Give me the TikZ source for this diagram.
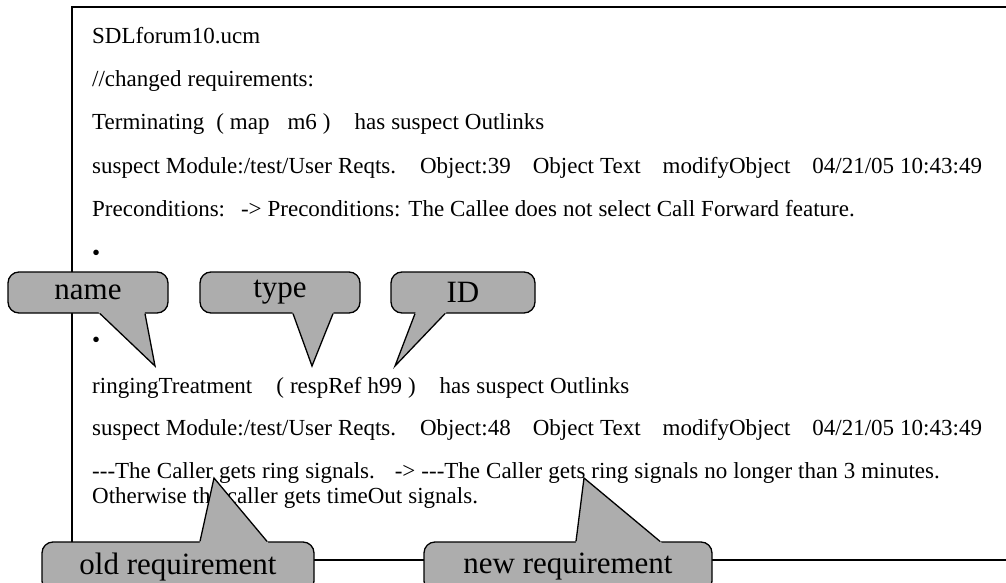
\documentclass[tikz,border=0pt]{standalone}
\usepackage{fontspec}
\setmainfont{Liberation Serif}
\usetikzlibrary{calc,positioning}
\def\figtextx{92}
\def\figlinesep{43pt}
\def\figboxheight{41pt}
\def\figlowboxheight{50pt}
\def\figlinewidth{1.3pt}
\def\figgap{\hspace{16pt}}
\def\figwordspace{\spaceskip=6pt plus 1pt\relax}
% pointer of a callout: left base, tip, right base
\newcommand{\figpointer}[3]{%
  \fill[ptrfill] ($(#2)!1.12!(#1)$) -- (#2) -- ($(#2)!1.12!(#3)$) -- cycle;
  \draw[ptredge] (#1) -- (#2) -- (#3);
}

\begin{document}
\begin{tikzpicture}[
  x=1pt,y=1pt,
  txt/.style={inner sep=0pt,anchor=base west,font={\fontsize{23}{27}\selectfont\figwordspace}},
  callout/.style={draw,line width=\figlinewidth,rounded corners=11pt,fill=black!32,font=\fontsize{31}{31}\selectfont,minimum height=\figboxheight,inner sep=0pt},
  ptrfill/.style={fill=black!32},
  ptredge/.style={line width=\figlinewidth,line join=miter},
]
\useasboundingbox (0,0) rectangle (1006,-583);

%%%%%%%%%%%%%%%
% Frame
%%%%%%%%%%%%%%%
\draw[line width=\figlinewidth] (1006,-7) -- (72,-7) -- (72,-560) -- (1006,-560);

%%%%%%%%%%%%%%%
% Report Text
%%%%%%%%%%%%%%%
\node (l1) [txt] at (\figtextx,-44) {SDLforum10.ucm};
\node (l2) [txt,below={\figlinesep of l1.base west},anchor=base west] {//changed requirements:};
\node (l3) [txt,below={\figlinesep of l2.base west},anchor=base west] {Terminating\ \ ( map\ \ \ m6 ) \hspace{18pt}has suspect Outlinks};
\node (l4) [txt,below={\figlinesep of l3.base west},anchor=base west] {suspect Module:/test/User Reqts. \figgap Object:39 \figgap Object Text \figgap modifyObject \figgap 04/21/05 10:43:49};
\node (l5) [txt,below={\figlinesep of l4.base west},anchor=base west] {Preconditions: \hspace{8pt}-> Preconditions: The Callee does not select Call Forward feature.};
\node (b1) [txt,below={44pt of l5.base west},anchor=base west] {•};

\node (b2) [txt] at (\figtextx,-347) {•};
\node (l6) [txt,below={46pt of b2.base west},anchor=base west] {ringingTreatment \hspace{18pt}( respRef h99 ) \hspace{18pt}has suspect Outlinks};
\node (l7) [txt,below={42pt of l6.base west},anchor=base west] {suspect Module:/test/User Reqts. \figgap Object:48 \figgap Object Text \figgap modifyObject \figgap 04/21/05 10:43:49};
\node (l8) [txt,below={\figlinesep of l7.base west},anchor=base west] {-{}-{}-The Caller gets ring signals. \hspace{12pt}-> -{}-{}-The Caller gets ring signals no longer than 3 minutes.};
\node (l9) [txt,below={25pt of l8.base west},anchor=base west] {Otherwise the caller gets timeOut signals.};

%%%%%%%%%%%%%%%
% Upper Callouts
%%%%%%%%%%%%%%%
\node (name) [callout,minimum width=160pt] at (88,-292.5) {name};
\node (type) [callout,minimum width=160pt] at (280,-292.5) {type};
\node (id) [callout,minimum width=144pt] at (463,-292.5) {ID};

\coordinate (nametip) at (155,-366);
\coordinate (typetip) at (312,-366);
\coordinate (idtip) at (395,-366);
\coordinate (namel) at ([xshift=12pt]name.south);
\coordinate (namer) at ([xshift=57pt]name.south);
\coordinate (typel) at ([xshift=13pt]type.south);
\coordinate (typer) at ([xshift=53pt]type.south);
\coordinate (idl) at ([xshift=-48pt]id.south);
\coordinate (idr) at ([xshift=-18pt]id.south);
\figpointer{namel}{nametip}{namer}
\figpointer{typel}{typetip}{typer}
\figpointer{idl}{idtip}{idr}

%%%%%%%%%%%%%%%
% Lower Callouts
%%%%%%%%%%%%%%%
\node (old) [callout,minimum width=272pt,minimum height=\figlowboxheight] at (178,-567) {old requirement};
\node (new) [callout,minimum width=288pt,minimum height=\figlowboxheight] at (568,-567) {new requirement};

\coordinate (oldtip) at (214,-478);
\coordinate (newtip) at (584,-478);
\coordinate (oldl) at ([xshift=22pt]old.north);
\coordinate (oldr) at ([xshift=89pt]old.north);
\coordinate (newl) at ([xshift=8pt]new.north);
\coordinate (newr) at ([xshift=92pt]new.north);
\figpointer{oldl}{oldtip}{oldr}
\figpointer{newl}{newtip}{newr}

\end{tikzpicture}
\end{document}
